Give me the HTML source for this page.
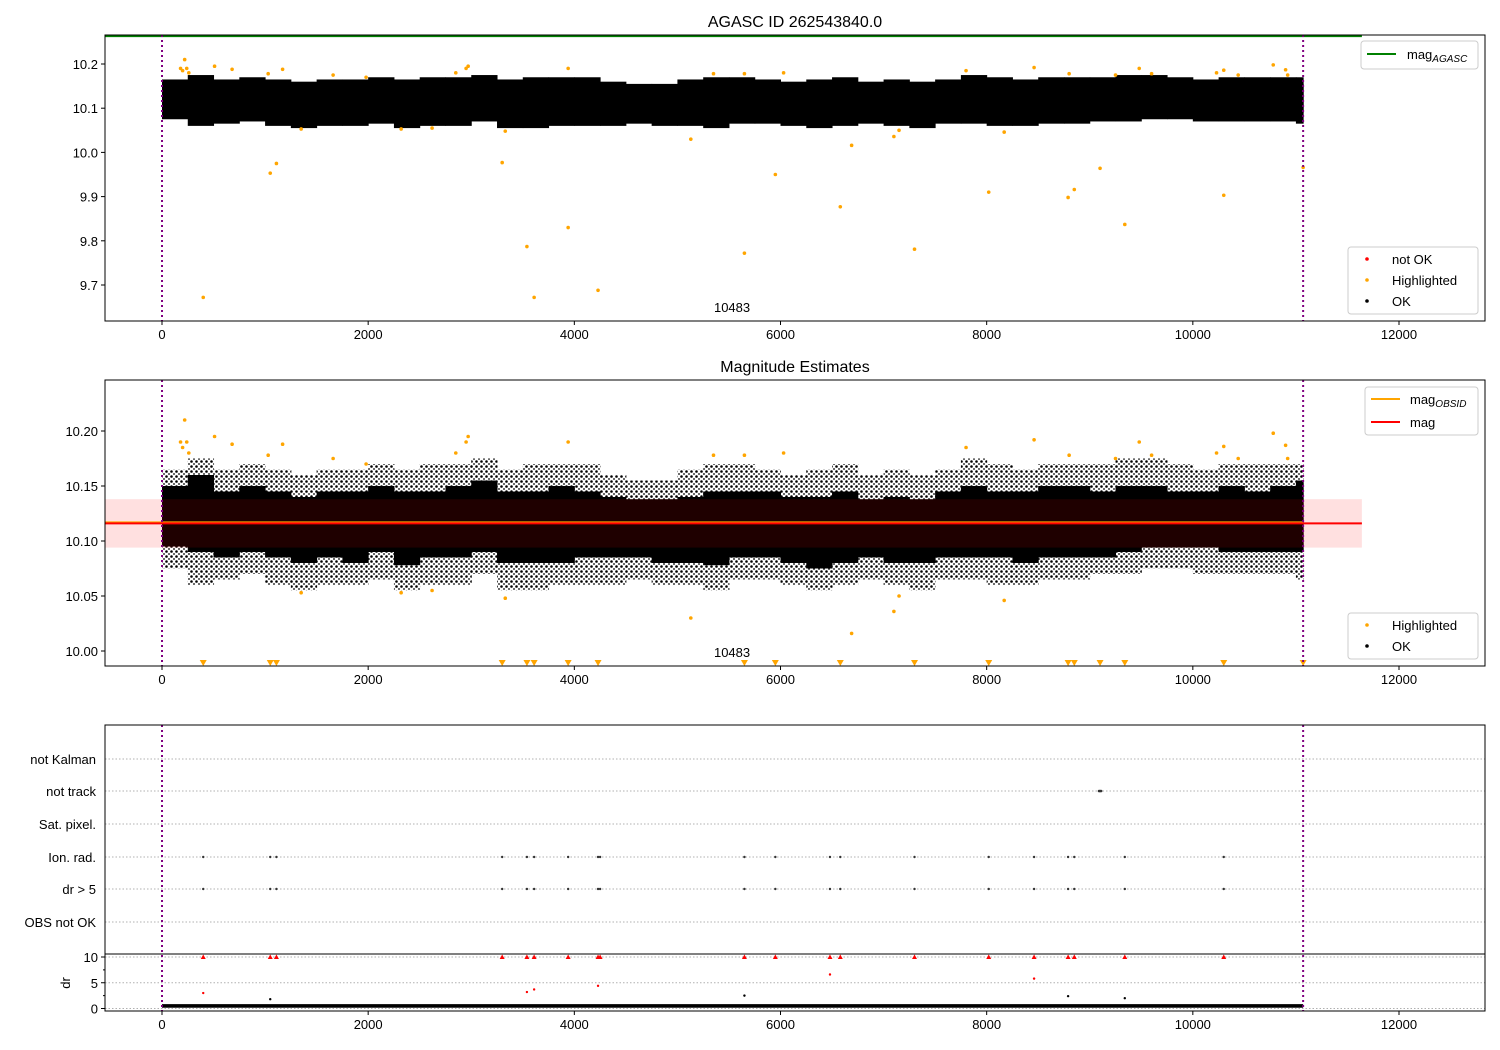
<!DOCTYPE html>
<html><head><meta charset="utf-8"><style>
html,body{margin:0;padding:0;background:#fff}
svg{display:block;font-family:"Liberation Sans","DejaVu Sans",sans-serif}
</style></head><body>
<svg id="c" width="1500" height="1050" viewBox="0 0 1500 1050" xmlns="http://www.w3.org/2000/svg">
<defs>
<clipPath id="cp1"><rect x="105" y="35" width="1380" height="286"/></clipPath>
<clipPath id="cp2"><rect x="105" y="380" width="1380" height="286"/></clipPath>
<pattern id="dots" width="5" height="5" patternUnits="userSpaceOnUse"><circle cx="1.5" cy="1.5" r="1.3" fill="#000"/><circle cx="4" cy="4" r="0.9" fill="#000"/></pattern>
</defs>
</svg>
<script>
// ---- data ----
const binStart = [0,250,500,750,1000,1250,1500,1750,2000,2250,2500,2750,3000,3250,3500,3750,4000,4250,4500,4750,5000,5250,5500,5750,6000,6250,6500,6750,7000,7250,7500,7750,8000,8250,8500,8750,9000,9250,9500,9750,10000,10250,10500,10750,11000];
const binHi = [10.15,10.16,10.145,10.15,10.145,10.14,10.145,10.145,10.15,10.145,10.145,10.15,10.155,10.145,10.145,10.15,10.145,10.14,10.138,10.138,10.14,10.145,10.145,10.145,10.14,10.14,10.145,10.138,10.14,10.138,10.145,10.15,10.145,10.145,10.15,10.15,10.145,10.15,10.15,10.145,10.145,10.15,10.145,10.15,10.155];
const binLo = [10.095,10.09,10.085,10.09,10.085,10.08,10.085,10.08,10.09,10.078,10.085,10.085,10.09,10.08,10.08,10.08,10.085,10.085,10.085,10.08,10.08,10.078,10.085,10.085,10.08,10.075,10.08,10.085,10.08,10.08,10.085,10.085,10.085,10.08,10.085,10.085,10.085,10.09,10.094,10.094,10.094,10.09,10.09,10.09,10.09];
const binMax = [10.165,10.175,10.165,10.17,10.165,10.16,10.165,10.165,10.17,10.165,10.17,10.17,10.175,10.165,10.17,10.17,10.17,10.16,10.155,10.155,10.165,10.17,10.17,10.165,10.16,10.165,10.17,10.16,10.165,10.16,10.165,10.175,10.17,10.165,10.17,10.17,10.17,10.175,10.175,10.17,10.165,10.17,10.17,10.17,10.17];
const binMin = [10.075,10.06,10.065,10.07,10.06,10.055,10.06,10.06,10.065,10.055,10.06,10.06,10.07,10.055,10.055,10.06,10.06,10.06,10.065,10.06,10.06,10.055,10.065,10.065,10.06,10.055,10.06,10.065,10.06,10.055,10.065,10.065,10.06,10.06,10.065,10.065,10.07,10.07,10.075,10.075,10.07,10.07,10.07,10.07,10.065];
const hlTimes = [400,1050,1110,3300,3540,3610,3940,4230,5130,5650,5950,6580,6690,7100,7150,7300,8020,8170,8790,8850,9100,9340,10300,11070,2320,1350,2620,3330,180,200,220,240,260,510,680,1170,1660,1980,2850,2950,2970,3940,5350,5650,6030,7800,8460,8800,9250,9480,9600,10230,10300,10440,10780,10900,10920,1030];
const hlMags = [9.672,9.953,9.975,9.977,9.787,9.672,9.830,9.688,10.030,9.772,9.950,9.877,10.016,10.036,10.050,9.781,9.910,10.046,9.898,9.916,9.964,9.837,9.903,9.966,10.053,10.053,10.055,10.048,10.19,10.185,10.21,10.19,10.18,10.195,10.188,10.188,10.175,10.17,10.18,10.19,10.195,10.19,10.178,10.178,10.18,10.185,10.192,10.178,10.175,10.19,10.178,10.18,10.186,10.175,10.198,10.187,10.175,10.178];
const flagTimes = [400,1050,1110,3300,3540,3610,3940,4230,4250,5650,5950,6480,6580,7300,8020,8460,8790,8850,9340,10300];
const trackTimes = [9090,9100,9110];
const drRedTimes = [400,3540,3610,4230,6480,8460];
const drRedVals = [3.0,3.2,3.7,4.4,6.6,5.8];
const drBlackTimes = [1050,5650,8790,9340];
const drBlackVals = [1.8,2.5,2.4,2.0];
const flagLabels = ["not Kalman","not track","Sat. pixel.","Ion. rad.","dr > 5","OBS not OK"];
const xTicks = [0,2000,4000,6000,8000,10000,12000];
const y1Ticks = [9.7,9.8,9.9,10.0,10.1,10.2];
const y2Ticks = [10.00,10.05,10.10,10.15,10.20];
const drTicks = [0,5,10];
const magAgasc = 10.263, magMean = 10.116, magStd = 0.022;
const tEnd = 11070;

// ---- helpers ----
const S = document.getElementById('c'), NS = 'http://www.w3.org/2000/svg';
function el(tag, at, parent) { const e = document.createElementNS(NS, tag); for (const k in at) e.setAttribute(k, at[k]); (parent || S).appendChild(e); return e; }
const X = t => 162 + t * (1237 / 12000);
const Y1 = v => 64 + (10.2 - v) * 442;
const Y2 = v => 651 - (v - 10.0) * 1100;
const Y3 = v => 1008.5 - v * 5.15;
const L = 105, R = 1485;
function txt(x, y, s, anchor, size, name) { const t = el('text', {x, y, 'text-anchor': anchor || 'middle', 'font-size': size || 13, fill: '#000'}); t.textContent = s;
  
   return t; }
function xAxis(bottom) { xTicks.forEach(t => { const l = el('line', {x1: X(t), x2: X(t), y1: bottom, y2: bottom + 4, stroke: '#000'});
  
  
  txt(X(t), bottom + 18, String(t), 'middle', 13, 'x-tick-label'); }); }
function frame(top, bottom, name) { const r = el('rect', {x: L, y: top, width: R - L, height: bottom - top, fill: 'none', stroke: '#000', 'stroke-width': 1});
  
   }
function vlines(top, bottom) { [0, tEnd].forEach(t => { const l = el('line', {x1: X(t), x2: X(t), y1: top, y2: bottom, stroke: 'purple', 'stroke-width': 2, 'stroke-dasharray': '2,3'});
  
   }); }
function cloud(Yf, g, outerFill) {
  binStart.forEach((t, i) => { const t2 = i + 1 < binStart.length ? binStart[i + 1] : tEnd;
    const o = el('rect', {x: X(t), y: Yf(binMax[i]), width: X(t2) - X(t) + 0.5, height: Yf(binMin[i]) - Yf(binMax[i]), fill: outerFill}, g);
    
    
    const r = el('rect', {x: X(t), y: Yf(binHi[i]), width: X(t2) - X(t) + 0.5, height: Yf(binLo[i]) - Yf(binHi[i]), fill: '#000'}, g);
    
     }); }
function dot(x, y, r, c, name, parent) { const d = el('circle', {cx: x, cy: y, r, fill: c}, parent);
  
   return d; }
function legendBox(x, y, w, h, name) { const r = el('rect', {x, y, width: w, height: h, rx: 3, fill: 'rgba(255,255,255,0.8)', stroke: '#ccc'});
  
   }

// ---- panel 1 ----
txt(795, 27, 'AGASC ID 262543840.0', 'middle', 16, 'chart-title');
const g1 = el('g', {'clip-path': 'url(#cp1)'});


cloud(Y1, g1, '#000');
hlTimes.forEach((t, i) => { if (hlMags[i] >= 9.6186 && hlMags[i] <= 10.2656) dot(X(t), Y1(hlMags[i]), 1.8, 'orange', 'highlighted-point', g1); });
{ const l = el('line', {x1: L, x2: X(11640), y1: Y1(magAgasc), y2: Y1(magAgasc), stroke: 'green', 'stroke-width': 2});
  
   }
vlines(35, 321);
txt(X(5530), 312, '10483', 'middle', 13, 'obsid-label');
frame(35, 321, 'agasc-axes');
xAxis(321);
y1Ticks.forEach(v => { const l = el('line', {x1: L - 4, x2: L, y1: Y1(v), y2: Y1(v), stroke: '#000'});
  
  
  txt(L - 7, Y1(v) + 5, v.toFixed(1), 'end', 13, 'y-tick-label'); });
legendBox(1361, 41, 117, 28, 'legend-agasc');
{ const l = el('line', {x1: 1367, x2: 1396, y1: 54, y2: 54, stroke: 'green', 'stroke-width': 2});   }
{ const t = txt(1407, 59, 'mag', 'start', 13, 'legend-mag-agasc'); const s = el('tspan', {'font-size': 10, 'font-style': 'italic', dy: 3}, t); s.textContent = 'AGASC'; }
legendBox(1348, 247, 130, 67, 'legend-status');
dot(1367, 259, 1.8, 'red', 'legend-notok-marker'); txt(1392, 264, 'not OK', 'start', 13, 'legend-notok');
dot(1367, 280, 1.8, 'orange', 'legend-highlighted-marker'); txt(1392, 285, 'Highlighted', 'start', 13, 'legend-highlighted');
dot(1367, 301, 1.8, '#000', 'legend-ok-marker'); txt(1392, 306, 'OK', 'start', 13, 'legend-ok');

// ---- panel 2 ----
txt(795, 372, 'Magnitude Estimates', 'middle', 16, 'panel-title');
const g2 = el('g', {'clip-path': 'url(#cp2)'});


cloud(Y2, g2, 'url(#dots)');
hlTimes.forEach((t, i) => { const v = hlMags[i];
  if (v >= 9.9864 && v <= 10.2464) dot(X(t), Y2(v), 1.8, 'orange', 'highlighted-point', g2);
  else if (v < 9.9864) { const x = X(t), y = 663; const p = el('path', {d: `M${x-3.5},${y-3} L${x+3.5},${y-3} L${x},${y+3} Z`, fill: 'orange'});
    
     } });
{ const r = el('rect', {x: L, y: Y2(magMean + magStd), width: X(11640) - L, height: Y2(magMean - magStd) - Y2(magMean + magStd), fill: 'rgba(255,0,0,0.12)'});
  
  
  const o = el('line', {x1: L, x2: X(tEnd), y1: Y2(magMean) - 1, y2: Y2(magMean) - 1, stroke: 'orange', 'stroke-width': 2});
  
  
  const l = el('line', {x1: L, x2: X(11640), y1: Y2(magMean), y2: Y2(magMean), stroke: 'red', 'stroke-width': 2});
  
   }
vlines(380, 666);
txt(X(5530), 657, '10483', 'middle', 13, 'obsid-label');
frame(380, 666, 'estimates-axes');
xAxis(666);
y2Ticks.forEach(v => { const l = el('line', {x1: L - 4, x2: L, y1: Y2(v), y2: Y2(v), stroke: '#000'});
  
  
  txt(L - 7, Y2(v) + 5, v.toFixed(2), 'end', 13, 'y-tick-label'); });
legendBox(1365, 387, 113, 48, 'legend-estimates');
{ const l = el('line', {x1: 1371, x2: 1400, y1: 399, y2: 399, stroke: 'orange', 'stroke-width': 2});   }
{ const t = txt(1410, 404, 'mag', 'start', 13, 'legend-mag-obsid'); const s = el('tspan', {'font-size': 10, 'font-style': 'italic', dy: 3}, t); s.textContent = 'OBSID'; }
{ const l = el('line', {x1: 1371, x2: 1400, y1: 422, y2: 422, stroke: 'red', 'stroke-width': 2});   }
txt(1410, 427, 'mag', 'start', 13, 'legend-mag');
legendBox(1348, 613, 130, 46, 'legend-status-2');
dot(1367, 625, 1.8, 'orange', 'legend-highlighted-marker'); txt(1392, 630, 'Highlighted', 'start', 13, 'legend-highlighted');
dot(1367, 646, 1.8, '#000', 'legend-ok-marker'); txt(1392, 651, 'OK', 'start', 13, 'legend-ok');

// ---- panel 3: flags ----
const flagY = [759, 791, 824, 857, 889, 922];
flagLabels.forEach((s, i) => { const l = el('line', {x1: L, x2: R, y1: flagY[i], y2: flagY[i], stroke: '#b0b0b0', 'stroke-dasharray': '1.5,2'});
  
  
  txt(L - 9, flagY[i] + 5, s, 'end', 13, 'flag-label'); });
flagTimes.forEach(t => { dot(X(t), flagY[3], 1.2, '#333', 'ion-rad-flag'); dot(X(t), flagY[4], 1.2, '#333', 'dr-flag'); });
trackTimes.forEach(t => dot(X(t), flagY[1], 1.3, '#333', 'not-track-flag'));
// dr sub-panel
drTicks.forEach(v => { const l = el('line', {x1: L, x2: R, y1: Y3(v), y2: Y3(v), stroke: '#b0b0b0', 'stroke-dasharray': '1.5,2'});
  
  
  const k = el('line', {x1: L - 4, x2: L, y1: Y3(v), y2: Y3(v), stroke: '#000'});
  
  
  txt(L - 7, Y3(v) + 5, String(v), 'end', 13, 'dr-tick-label'); });
[2.5, 7.5].forEach(v => { const k = el('line', {x1: L - 2, x2: L, y1: Y3(v), y2: Y3(v), stroke: '#000'});   });
{ const b = el('rect', {x: X(0), y: Y3(0.85), width: X(tEnd) - X(0), height: Y3(0.15) - Y3(0.85), fill: '#000'});
  
   }
drBlackTimes.forEach((t, i) => dot(X(t), Y3(drBlackVals[i]), 1.2, '#000', 'dr-point'));
drRedTimes.forEach((t, i) => dot(X(t), Y3(drRedVals[i]), 1.2, 'red', 'dr-notok-point'));
flagTimes.forEach(t => { const x = X(t), y = Y3(10); const p = el('path', {d: `M${x-2.5},${y+2} L${x+2.5},${y+2} L${x},${y-2.5} Z`, fill: 'red'});
  
   });
{ const t = el('text', {x: 70, y: 983, 'font-size': 13, 'text-anchor': 'middle', transform: 'rotate(-90 70 983)'}); t.textContent = 'dr';
  
   }
vlines(725, 1011);
frame(725, 1011, 'flags-axes');
{ const l = el('line', {x1: L, x2: R, y1: 954, y2: 954, stroke: '#000'});   }
xAxis(1011);
</script>
</body></html>
